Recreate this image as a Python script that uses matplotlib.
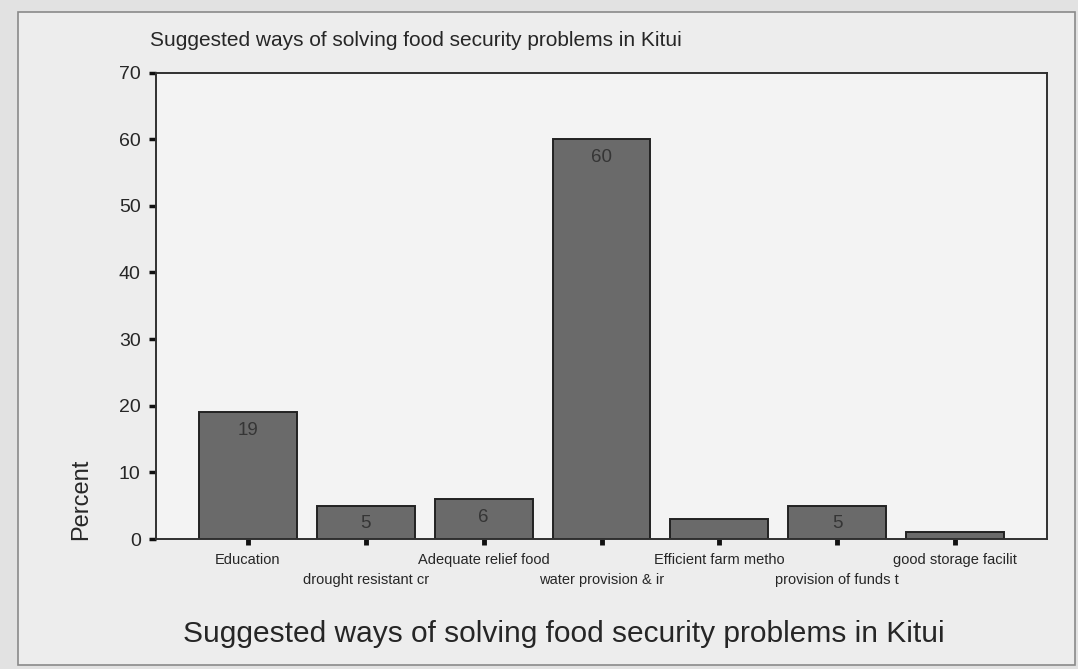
import matplotlib.pyplot as plt
from matplotlib.patches import Rectangle

plt.rcParams['font.family'] = ['Liberation Sans', 'DejaVu Sans']

# survey answers, percent of respondents
categories = [
    "Education",
    "drought resistant cr",
    "Adequate relief food",
    "water provision & ir",
    "Efficient farm metho",
    "provision of funds t",
    "good storage facilit",
]
percent = [19, 5, 6, 60, 3, 5, 1]
yticks = [0, 10, 20, 30, 40, 50, 60, 70]

title = "Suggested ways of solving food security problems in Kitui"
ink = "#262626"

fig = plt.figure(figsize=(10.78, 6.69), dpi=100, facecolor="#e2e2e2")

# page frame around the chart
frame = Rectangle((18 / 1078, 1 - 665 / 669), (1075 - 18) / 1078, (665 - 12) / 669,
                  transform=fig.transFigure, facecolor="#ededed",
                  edgecolor="#8a8a8a", linewidth=1.2, zorder=-10)
fig.patches.append(frame)

ax = fig.add_axes([156 / 1078, 1 - 539 / 669, (1047 - 156) / 1078, (539 - 72.5) / 669])
ax.set_zorder(1)
ax.set_facecolor("#f3f3f3")

x = list(range(len(categories)))
ax.bar(x, percent, width=0.83, color="#6a6a6a", edgecolor="#222222", linewidth=1.4, zorder=2)

# SPSS leaves the value off bars too short to hold it
for xi, v in zip(x, percent):
    if v >= 4:
        ax.annotate(str(v), (xi, v), xytext=(0, -18), textcoords="offset pixels",
                    ha="center", va="center", fontsize=13.5, color="#353535", zorder=3)

ax.set_xlim(-0.78, 6.78)
ax.set_ylim(0, 70)
ax.set_yticks(yticks)
ax.set_yticklabels([str(t) for t in yticks], fontsize=14, color=ink)

ax.set_xticks(x)
ax.set_xticklabels([c if i % 2 == 0 else "\n" + c for i, c in enumerate(categories)],
                   fontsize=10.5, color=ink, linespacing=1.55)

for side in ["left", "bottom", "top", "right"]:
    ax.spines[side].set_color("#303030")
    ax.spines[side].set_linewidth(1.4)

ax.tick_params(axis="y", direction="out", length=5, width=2.5, pad=6, color="#111111")
ax.tick_params(axis="x", direction="out", length=4, width=3.5, pad=6, color="#111111")

fig.text(150 / 1078, 1 - 40 / 669, title, fontsize=15, color=ink, ha="left", va="center")
fig.text(564 / 1078, 1 - 634 / 669, title, fontsize=21.5, color=ink, ha="center", va="center")
fig.text(81 / 1078, 1 - 499 / 669, "Percent", fontsize=17, color=ink, rotation=90,
         ha="center", va="center")

fig.savefig("out.png", dpi=100, facecolor=fig.get_facecolor())
